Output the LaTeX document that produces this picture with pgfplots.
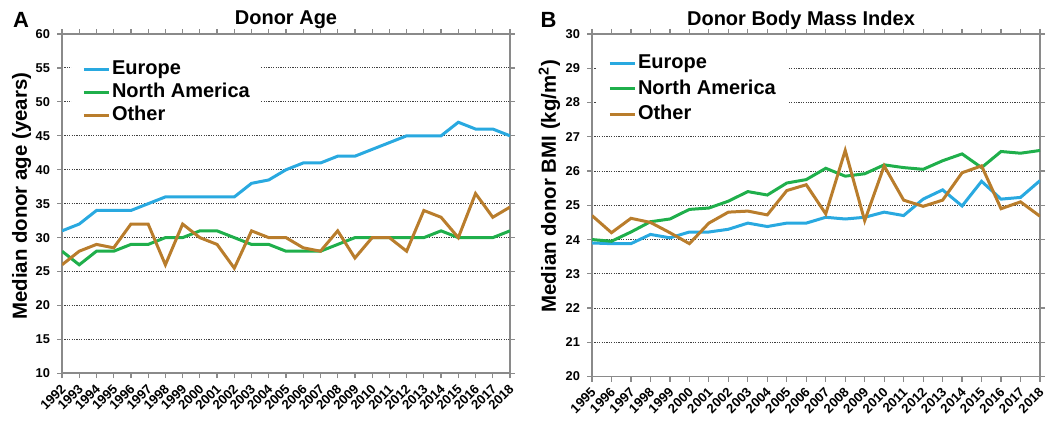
\documentclass[border=0pt]{standalone}
\usepackage{fontspec}
\setmainfont{Liberation Sans}
\usepackage{pgfplots}
\pgfplotsset{compat=1.18}
\definecolor{eu}{HTML}{29A9E0}
\definecolor{na}{HTML}{1FAF4B}
\definecolor{ot}{HTML}{B97D2C}
\definecolor{frm}{HTML}{8A8A8A}

\pgfplotsset{
 mystyle/.style={
  scale only axis,
  axis line style={frm, line width=0.9pt},
  tick style={frm, line width=0.6pt},
  tick align=outside,
  major tick length=2.5pt,
  ymajorgrids,
  grid style={black!75, line width=0.45pt, dash pattern=on 0.6pt off 0.6pt},
  tick label style={font=\bfseries\fontsize{6.4}{7}\selectfont},
  /pgf/number format/assume math mode=true,
  /pgf/number format/1000 sep={},
  xticklabel style={xshift=1.2pt, yshift=-3.8pt, rotate=45, anchor=east, inner sep=0.5pt, font=\bfseries\fontsize{6.6}{7}\selectfont},
  every axis y label/.style={rotate=90, anchor=center, font=\bfseries\fontsize{10.2}{12}\selectfont},
  legend style={draw=none, fill=white, font=\bfseries\fontsize{10}{12}\selectfont,
    inner xsep=5pt, inner ysep=2pt,
    nodes={inner sep=0.8pt, text height=7.4pt, text depth=2pt}},
  legend cell align=left,
  legend image code/.code={\draw[#1] (0pt,0pt) -- (12.5pt,0pt);},
  every axis plot/.append style={line width=1.5pt, no marks},
 }
}

\begin{document}
\begin{tikzpicture}
\useasboundingbox (0,0) rectangle (525pt,210.5pt);

% Panel A
\begin{axis}[mystyle,
  at={(31pt,23.8pt)}, anchor=south west,
  width=224pt, height=169.7pt,
  xmin=1992, xmax=2018, xtick={1992,1993,...,2018},
  ymin=10, ymax=60, ytick={10,15,...,60},
  ylabel={Median donor age (years)},
  every axis y label/.append style={at={(axis description cs:-0.09,0.522)}},
  legend style={at={(axis description cs:0,1)}, anchor=north west, xshift=5pt, yshift=-10pt, row sep=0.4pt},
]
\addplot[eu] coordinates {(1992,31)(1993,32)(1994,34)(1995,34)(1996,34)(1997,35)(1998,36)(1999,36)(2000,36)(2001,36)(2002,36)(2003,38)(2004,38.5)(2005,40)(2006,41)(2007,41)(2008,42)(2009,42)(2010,43)(2011,44)(2012,45)(2013,45)(2014,45)(2015,47)(2016,46)(2017,46)(2018,45)};
\addlegendentry{Europe}
\addplot[na] coordinates {(1992,28)(1993,26)(1994,28)(1995,28)(1996,29)(1997,29)(1998,30)(1999,30)(2000,31)(2001,31)(2002,30)(2003,29)(2004,29)(2005,28)(2006,28)(2007,28)(2008,29)(2009,30)(2010,30)(2011,30)(2012,30)(2013,30)(2014,31)(2015,30)(2016,30)(2017,30)(2018,31)};
\addlegendentry{North America}
\addplot[ot] coordinates {(1992,26)(1993,28)(1994,29)(1995,28.5)(1996,32)(1997,32)(1998,26)(1999,32)(2000,30)(2001,29)(2002,25.5)(2003,31)(2004,30)(2005,30)(2006,28.5)(2007,28)(2008,31)(2009,27)(2010,30)(2011,30)(2012,28)(2013,34)(2014,33)(2015,30)(2016,36.5)(2017,33)(2018,34.5)};
\addlegendentry{Other}
\end{axis}

% Panel B
\begin{axis}[mystyle,
  at={(296pt,22.2pt)}, anchor=south west,
  width=224pt, height=171.3pt,
  xmin=1995, xmax=2018, xtick={1995,1996,...,2018},
  ymin=20, ymax=30, ytick={20,21,...,30},
  ylabel={Median donor BMI (kg/m\textsuperscript{2})},
  every axis y label/.append style={at={(axis description cs:-0.095,0.556)}},
  legend style={at={(axis description cs:0,1)}, anchor=north west, xshift=2pt, yshift=-7pt, row sep=1.8pt, inner xsep=6pt},
]
\addplot[eu] coordinates {(1995,23.9)(1996,23.88)(1997,23.88)(1998,24.15)(1999,24.05)(2000,24.22)(2001,24.22)(2002,24.3)(2003,24.48)(2004,24.38)(2005,24.48)(2006,24.48)(2007,24.65)(2008,24.6)(2009,24.65)(2010,24.8)(2011,24.7)(2012,25.18)(2013,25.45)(2014,24.98)(2015,25.7)(2016,25.18)(2017,25.23)(2018,25.72)};
\addlegendentry{Europe}
\addplot[na] coordinates {(1995,24.0)(1996,23.95)(1997,24.22)(1998,24.52)(1999,24.6)(2000,24.88)(2001,24.92)(2002,25.12)(2003,25.4)(2004,25.3)(2005,25.65)(2006,25.75)(2007,26.08)(2008,25.85)(2009,25.92)(2010,26.18)(2011,26.1)(2012,26.05)(2013,26.3)(2014,26.5)(2015,26.1)(2016,26.57)(2017,26.52)(2018,26.6)};
\addlegendentry{North America}
\addplot[ot] coordinates {(1995,24.7)(1996,24.2)(1997,24.62)(1998,24.5)(1999,24.2)(2000,23.88)(2001,24.48)(2002,24.8)(2003,24.83)(2004,24.72)(2005,25.43)(2006,25.6)(2007,24.75)(2008,26.6)(2009,24.55)(2010,26.15)(2011,25.15)(2012,24.97)(2013,25.15)(2014,25.95)(2015,26.15)(2016,24.9)(2017,25.1)(2018,24.68)};
\addlegendentry{Other}
\end{axis}

\node[font=\bfseries\fontsize{10}{12}\selectfont] at (143pt,200.5pt) {Donor Age};
\node[font=\bfseries\fontsize{10}{12}\selectfont] at (400.5pt,200.5pt) {Donor Body Mass Index};
\node[font=\bfseries\fontsize{11}{12}\selectfont] at (10.5pt,200.5pt) {A};
\node[font=\bfseries\fontsize{11}{12}\selectfont] at (274.3pt,200.5pt) {B};
\end{tikzpicture}
\end{document}
